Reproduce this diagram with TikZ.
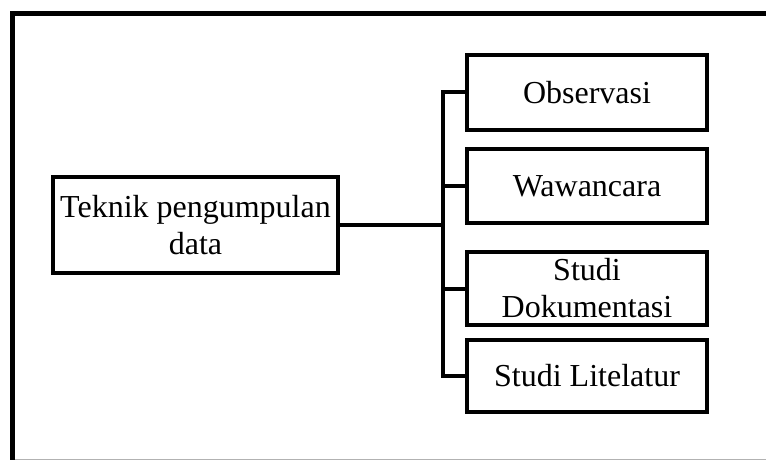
\documentclass[tikz,border=0pt]{standalone}
\usepackage{fontspec}
\setmainfont{Liberation Serif}
\begin{document}
\begin{tikzpicture}[x=1pt,y=-1pt,
  box/.style={draw=black,line width=4pt,rectangle,align=center,inner sep=0pt,
    font=\fontsize{32}{37}\selectfont},
  conn/.style={draw=black,line width=4pt},
  frame/.style={draw=black,line width=5pt,line join=miter}]
\useasboundingbox (0,0) rectangle (766,460);
% outer frame
\coordinate (fb) at (12,460);
\coordinate (fc) at (12,14);
\coordinate (fr) at (766,14);
\draw[frame] (fb) -- (fc) -- (fr);
\coordinate (gl) at (15,459);
\coordinate (gr) at (766,459);
\draw[gray!60,line width=1pt] (gl) -- (gr);
% nodes
\node[box,minimum width=285pt,minimum height=96pt] (main) at (195.5,225) {Teknik pengumpulan\\data};
\node[box,minimum width=240pt,minimum height=75pt] (b1) at (587,92.5) {Observasi};
\node[box,minimum width=240pt,minimum height=74pt] (b2) at (587,186) {Wawancara};
\node[box,minimum width=240pt,minimum height=73pt] (b3) at (587,288.5) {Studi\\Dokumentasi};
\node[box,minimum width=240pt,minimum height=72pt] (b4) at (587,376) {Studi Litelatur};
% connectors
\coordinate (jt) at (443,225);
\coordinate (tt) at (443,90.5);
\coordinate (tb) at (443,378);
\draw[conn] (tt) -- (tb);
\draw[conn] (main.east) -- (jt);
\draw[conn] (jt |- b1.west) -- (b1.west);
\draw[conn] (jt |- b2.west) -- (b2.west);
\draw[conn] (jt |- b3.west) -- (b3.west);
\draw[conn] (jt |- b4.west) -- (b4.west);
\end{tikzpicture}
\end{document}
